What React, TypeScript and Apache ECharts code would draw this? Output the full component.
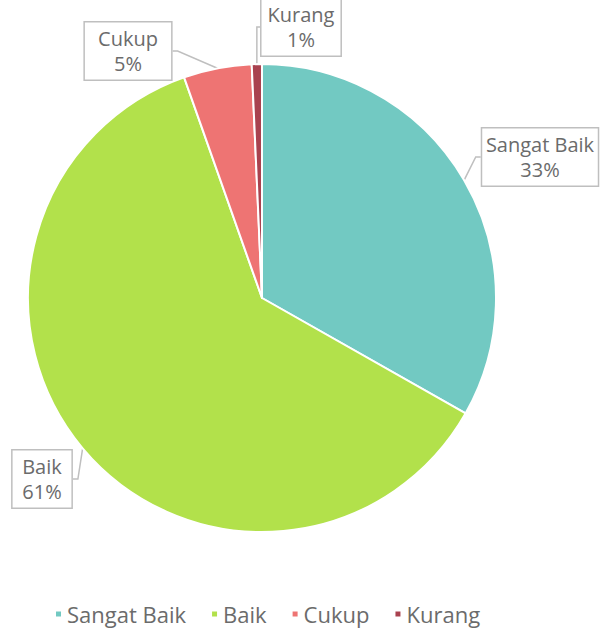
import React, { useEffect, useRef } from "react";
import * as echarts from "echarts";

const categories = ["Sangat Baik", "Baik", "Cukup", "Kurang"];
const values = [33.2, 61.4, 4.7, 0.7];
const colors = ["#72C9C2", "#B2E14B", "#EE7473", "#A9424F"];
const labelCenters = [
  [540, 157],
  [42, 479],
  [128, 51],
  [301, 27],
];

export default function App() {
  const ref = useRef<HTMLDivElement>(null);
  useEffect(() => {
    const chart = echarts.init(ref.current!, null, { renderer: "svg" });
    chart.setOption({
      animation: false,
      color: colors,
      textStyle: { fontFamily: "Open Sans" },
      legend: {
        bottom: 2,
        left: 49,
        icon: "rect",
        itemWidth: 7,
        itemHeight: 7,
        itemGap: 24,
        textStyle: { fontSize: 22, color: "#6b6b6b", fontFamily: "Open Sans" },
        data: categories,
      },
      series: [
        {
          type: "pie",
          center: [262, 298],
          radius: 234,
          startAngle: 90,
          clockwise: true,
          itemStyle: { borderColor: "#fff", borderWidth: 2 },
          data: categories.map((c, i) => ({ name: c, value: values[i] })),
          label: {
            show: true,
            position: "outside",
            overflow: "none",
            formatter: (p: any) => `${p.name}\n${Math.round(p.percent)}%`,
            fontSize: 20,
            lineHeight: 25,
            color: "#6b6b6b",
            fontFamily: "Open Sans",
            align: "center",
            backgroundColor: "#fff",
            borderColor: "#bfbfbf",
            borderWidth: 1.5,
            padding: [4, 6, 3, 6],
          },
          labelLine: {
            show: true,
            length: 5,
            length2: 5,
            lineStyle: { color: "#bfbfbf", width: 1.5 },
          },
          labelLayout: (params: any) => {
            const c = labelCenters[params.dataIndex];
            return { x: c[0], y: c[1], align: "center", verticalAlign: "middle" };
          },
        },
      ],
    });
    return () => chart.dispose();
  }, []);
  return (
    <div
      ref={ref}
      style={{ position: "fixed", left: 0, top: 0, width: 604, height: 632, background: "#fff" }}
    />
  );
}
